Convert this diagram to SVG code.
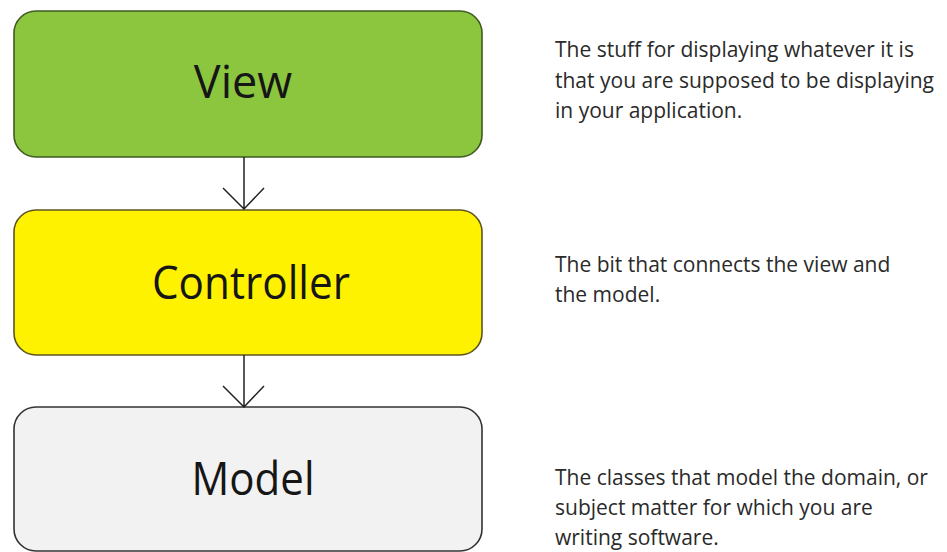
<svg xmlns="http://www.w3.org/2000/svg" width="947" height="552" viewBox="0 0 947 552">
<style>
.box{stroke-width:1.6}
.lbl{font-family:"Open Sans","Noto Sans",sans-serif;font-size:45px;fill:#161616;text-anchor:middle}
.desc{font-family:"Open Sans","Noto Sans",sans-serif;font-size:21px;fill:#2a2a2a}
.conn{stroke:#222;stroke-width:1.5;fill:none}
</style>
<rect width="947" height="552" fill="#ffffff"/>
<g id="view">
<rect class="box" x="14" y="11" width="468" height="146" rx="22" fill="#8cc63f" stroke="#3f5a22"/>
<text class="lbl" x="243" y="98">View</text>
</g>
<g id="controller">
<rect class="box" x="14" y="210" width="468" height="145" rx="22" fill="#fff200" stroke="#5e5420"/>
<text class="lbl" x="251" y="299" textLength="198" lengthAdjust="spacingAndGlyphs">Controller</text>
</g>
<g id="model">
<rect class="box" x="14" y="407" width="468" height="144" rx="22" fill="#f2f2f2" stroke="#333333"/>
<text class="lbl" x="253" y="495" textLength="123" lengthAdjust="spacingAndGlyphs">Model</text>
</g>
<g id="connectors">
<path class="conn" d="M244 157 V209 M223 188 L244 209 L264 188"/>
<path class="conn" d="M244 355 V407 M223 386 L244 407 L264 386"/>
</g>
<g id="descriptions">
<text class="desc" x="555" y="57">The stuff for displaying whatever it is</text>
<text class="desc" x="555" y="88">that you are supposed to be displaying</text>
<text class="desc" x="555" y="118">in your application.</text>
<text class="desc" x="555" y="272">The bit that connects the view and</text>
<text class="desc" x="555" y="302">the model.</text>
<text class="desc" x="555" y="485">The classes that model the domain, or</text>
<text class="desc" x="555" y="515">subject matter for which you are</text>
<text class="desc" x="555" y="545">writing software.</text>
</g>
</svg>
